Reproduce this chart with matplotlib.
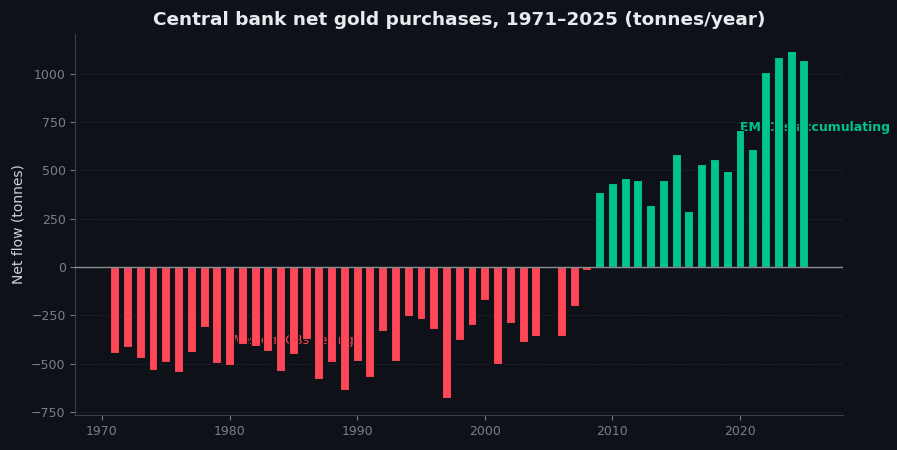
import matplotlib
matplotlib.use('Agg')
import matplotlib.pyplot as plt
import numpy as np

BG = '#0e1117'
RED = '#ff4757'
GREEN = '#00c48c'

years = list(range(1971, 2026))
net_tonnes = [
    -446, -414, -471, -534, -492, -544, -440, -311, -497, -508,   # 1971-1980
    -397, -409, -435, -539, -451, -371, -580, -492, -637, -487,   # 1981-1990
    -570, -332, -487, -254, -269, -321, -674, -378, -300, -171,   # 1991-2000
    -503, -290, -389, -357, 8, -357, -202, -16, 390, 437,         # 2001-2010
    458, 452, 323, 452, 582, 292, 535, 556, 494, 706,             # 2011-2020
    608, 1007, 1084, 1116, 1069,                                  # 2021-2025
]

fig, ax = plt.subplots(figsize=(8.97, 4.5), dpi=100)
fig.patch.set_facecolor(BG)
ax.set_facecolor(BG)

vals = np.array(net_tonnes)
colors = [GREEN if v > 0 else RED for v in vals]
ax.bar(years, vals, width=0.7, color=colors, edgecolor=BG, linewidth=0.8, zorder=3)
ax.axhline(0, color='#8a8d94', linewidth=1, zorder=4)

ax.text(1980, -380, 'Western CBs selling', color=RED, fontsize=9, va='center', ha='left', zorder=2)
ax.text(2020, 720, 'EM CBs accumulating', color=GREEN, fontsize=9, fontweight='bold',
        va='center', ha='left', zorder=2)

ax.set_title('Central bank net gold purchases, 1971\u20132025 (tonnes/year)',
             color='#e8eaf0', fontsize=13.3, fontweight='bold', pad=6)
ax.set_ylabel('Net flow (tonnes)', color='#d0d3da', fontsize=10)

ax.set_yticks([-750, -500, -250, 0, 250, 500, 750, 1000])
ax.grid(axis='y', color='#1f232b', linestyle='--', linewidth=0.6, zorder=0)
ax.tick_params(colors='#7a7e88', labelsize=9)
for s in ['top', 'right']:
    ax.spines[s].set_visible(False)
for s in ['left', 'bottom']:
    ax.spines[s].set_color('#3a3e48')

fig.subplots_adjust(left=0.084, right=0.94, top=0.925, bottom=0.078)
fig.savefig('out.png', facecolor=BG)
plt.close(fig)
